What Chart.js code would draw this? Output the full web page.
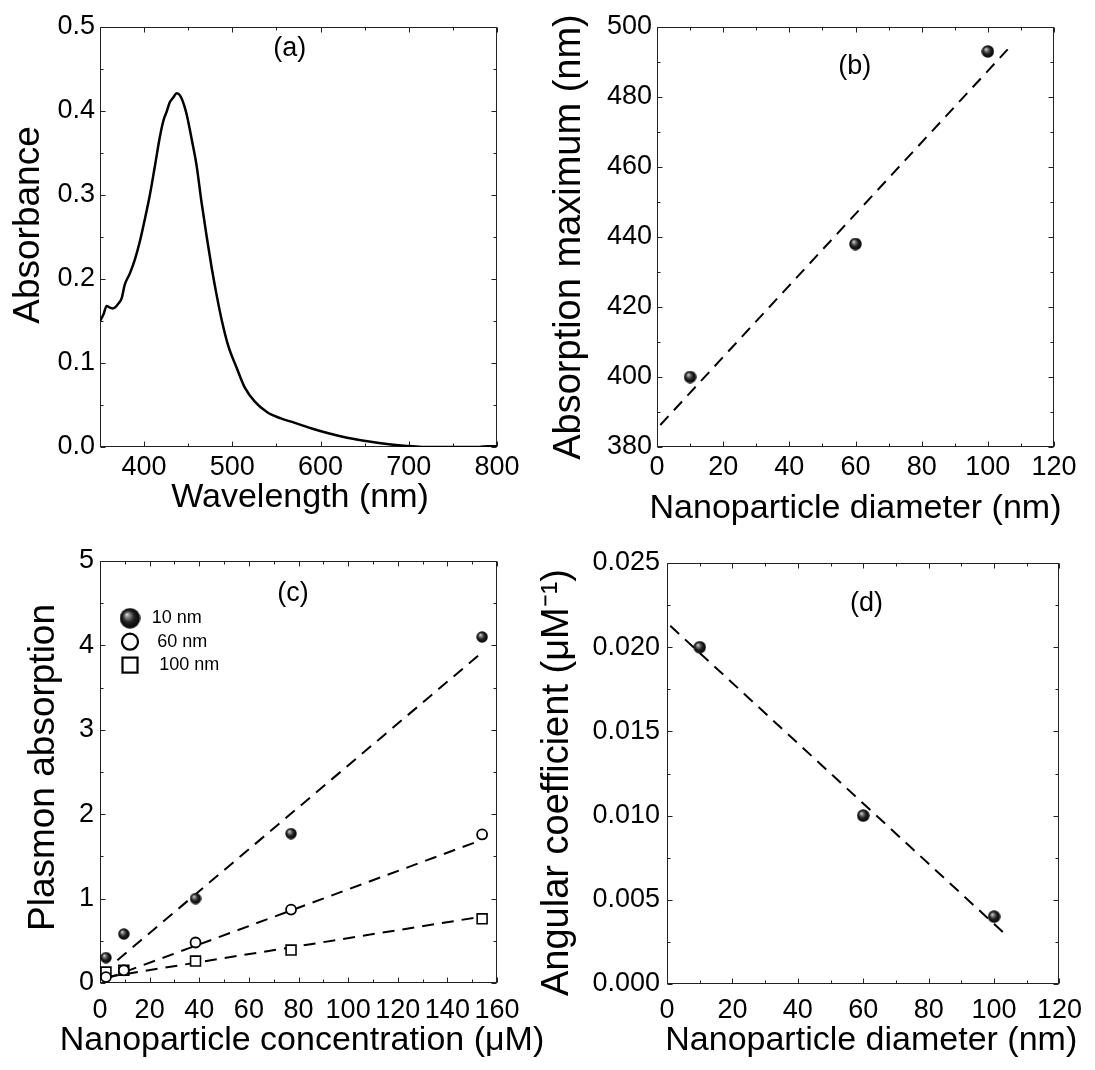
<!DOCTYPE html>
<html>
<head>
<meta charset="utf-8">
<script src="https://cdn.jsdelivr.net/npm/chart.js@4.4.1/dist/chart.umd.min.js"></script>
<style>
  html, body { margin: 0; padding: 0; background: #fff; }
  body { width: 1095px; height: 1070px; position: relative; overflow: hidden; }
  canvas { position: absolute; }
</style>
</head>
<body>
<canvas id="panelA" width="547" height="535" style="left:0px;top:0px"></canvas>
<canvas id="panelB" width="565" height="535" style="left:530px;top:0px"></canvas>
<canvas id="panelC" width="560" height="535" style="left:0px;top:535px"></canvas>
<canvas id="panelD" width="565" height="535" style="left:530px;top:535px"></canvas>
<script>
// (a) absorption spectrum
const wavelength = [350, 354, 357.5, 361, 364, 367, 371, 374.5, 378, 384, 389.5, 395, 401, 406.5, 412, 418,
  422, 425.5, 429, 433, 437, 441, 445, 448, 454, 459.5, 465, 471, 476.5, 482, 488, 495.5, 505, 514,
  525.5, 540, 555, 570, 590, 610, 630, 655, 680, 705, 720, 750, 780, 790, 800];
const absorbance = [0.150, 0.158, 0.168, 0.166, 0.165, 0.166, 0.171, 0.177, 0.193, 0.207, 0.223, 0.244, 0.272, 0.300, 0.333, 0.370,
  0.389, 0.399, 0.410, 0.416, 0.421, 0.418, 0.408, 0.397, 0.366, 0.335, 0.292, 0.250, 0.214, 0.182, 0.151, 0.120, 0.094, 0.071,
  0.054, 0.041, 0.034, 0.029, 0.022, 0.016, 0.011, 0.0065, 0.003, 0.0008, 0, 0, 0, 0.001, 0.001];
const wavelengthTicks = [400, 500, 600, 700, 800];
const absorbanceTicks = [0, 0.1, 0.2, 0.3, 0.4, 0.5];

// (b) absorption maximum vs diameter
const diameters = [10, 60, 100];
const peakMaximum = [400, 438, 493];
const peakFitX = [1, 106];
const peakFitY = [386.3, 493.6];
const diameterTicks = [0, 20, 40, 60, 80, 100, 120];
const peakTicks = [380, 400, 420, 440, 460, 480, 500];

// (c) plasmon absorption vs concentration
const seriesNames = ['10 nm', '60 nm', '100 nm'];
const concentration = [2.4, 9.6, 38.5, 77, 154];
const plasmon10 = [0.30, 0.58, 1.00, 1.77, 4.10];
const plasmon60 = [0.07, 0.15, 0.48, 0.87, 1.76];
const plasmon100 = [0.13, 0.15, 0.26, 0.39, 0.76];
const fit10X = [7, 152.5], fit10Y = [0.27, 3.88];
const fit60X = [2.5, 152.5], fit60Y = [0.05, 1.68];
const fit100X = [2.5, 152.5], fit100Y = [0.07, 0.78];
const concTicks = [0, 20, 40, 60, 80, 100, 120, 140, 160];
const plasmonTicks = [0, 1, 2, 3, 4, 5];

// (d) angular coefficient vs diameter
const angular = [0.020, 0.010, 0.004];
const angularFitX = [1, 104];
const angularFitY = [0.02127, 0.00285];
const angularTicks = [0, 0.005, 0.010, 0.015, 0.020, 0.025];

const FONT = '"Liberation Sans", Arial, Helvetica, sans-serif';
Chart.defaults.font.family = FONT;
Chart.defaults.color = '#000';

const zip = (xs, ys) => xs.map((x, i) => ({ x: x, y: ys[i] }));

// shaded ball marker
function makeSphere(d) {
  const c = document.createElement('canvas');
  c.width = d; c.height = d;
  const g = c.getContext('2d');
  const r = d / 2;
  const grad = g.createRadialGradient(r * 0.68, r * 0.62, 0, r, r, r);
  grad.addColorStop(0, '#e6e6e6');
  grad.addColorStop(0.22, '#8a8a8a');
  grad.addColorStop(0.55, '#222');
  grad.addColorStop(1, '#000');
  g.fillStyle = grad;
  g.beginPath();
  g.arc(r, r, r - 0.3, 0, Math.PI * 2);
  g.fill();
  return c;
}
const ball13 = makeSphere(13);
const ball12 = makeSphere(12);
const ballBig = makeSphere(21);

function steps(min, max, step) {
  const out = [];
  for (let i = Math.ceil(min / step - 1e-9); i * step <= max + 1e-9; i++) out.push(i * step);
  return out;
}

// box, inward ticks on all sides, axis titles, panel tag
const framePlugin = {
  id: 'frame',
  beforeDatasetsDraw(chart, args, o) {
    const { ctx, chartArea: a, scales } = chart;
    const x = scales.x, y = scales.y;
    const L = Math.round(a.left) + 0.5, R = Math.round(a.right) - 0.5;
    const T = Math.round(a.top) + 0.5, B = Math.round(a.bottom) - 0.5;
    ctx.save();
    ctx.strokeStyle = '#222';
    ctx.lineWidth = 1;
    ctx.strokeRect(L, T, R - L, B - T);
    ctx.beginPath();
    steps(x.min, x.max, o.xStep).forEach(v => {
      const p = Math.round(x.getPixelForValue(v)) + 0.5;
      const len = Math.abs(v / o.xMajor - Math.round(v / o.xMajor)) < 1e-6 ? 5 : 3;
      ctx.moveTo(p, B); ctx.lineTo(p, B - len);
      ctx.moveTo(p, T); ctx.lineTo(p, T + len);
    });
    steps(y.min, y.max, o.yStep).forEach(v => {
      const p = Math.round(y.getPixelForValue(v)) + 0.5;
      const len = Math.abs(v / o.yMajor - Math.round(v / o.yMajor)) < 1e-6 ? 5 : 3;
      ctx.moveTo(L, p); ctx.lineTo(L + len, p);
      ctx.moveTo(R, p); ctx.lineTo(R - len, p);
    });
    ctx.stroke();

    ctx.fillStyle = '#000';
    ctx.textAlign = 'center';
    ctx.textBaseline = 'middle';
    ctx.font = '27px ' + FONT;
    ctx.fillText(o.tag, x.getPixelForValue(o.tagAt[0]), y.getPixelForValue(o.tagAt[1]));

    const xt = o.xTitle;
    ctx.font = xt.size + 'px ' + FONT;
    ctx.fillText(xt.text, (a.left + a.right) / 2 + xt.dx, a.bottom + xt.dy);

    const yt = o.yTitle;
    ctx.translate(a.left + yt.dx, (a.top + a.bottom) / 2 + yt.dy);
    ctx.rotate(-Math.PI / 2);
    ctx.font = yt.size + 'px ' + FONT;
    ctx.fillText(yt.text, 0, 0);
    ctx.restore();
  }
};

// legend drawn inside the plot of panel (c)
const insetLegend = {
  id: 'insetLegend',
  afterDatasetsDraw(chart, args, o) {
    const { ctx, chartArea: a } = chart;
    ctx.save();
    ctx.font = '18px ' + FONT;
    ctx.textBaseline = 'middle';
    ctx.textAlign = 'left';
    ctx.fillStyle = '#000';
    ctx.strokeStyle = '#000';
    ctx.lineWidth = 2.2;
    seriesNames.forEach((name, i) => {
      const cx = a.left + o.x, cy = a.top + o.y + i * o.gap;
      if (i === 0) {
        ctx.drawImage(ballBig, cx - ballBig.width / 2, cy - ballBig.height / 2);
      } else if (i === 1) {
        ctx.beginPath();
        ctx.arc(cx, cy, 8, 0, Math.PI * 2);
        ctx.stroke();
      } else {
        ctx.strokeRect(cx - 7.5, cy - 7.5, 15, 15);
      }
      ctx.fillText(name, a.left + o.textX + o.dx[i], cy);
    });
    ctx.restore();
  }
};

function axis(a, dir, size) {
  return {
    type: 'linear',
    position: dir === 'x' ? 'bottom' : 'left',
    min: a.min,
    max: a.max,
    grid: { display: false, drawTicks: false },
    border: { display: false },
    ticks: {
      autoSkip: false, maxRotation: 0, minRotation: 0,
      padding: a.tickPad,
      color: '#000',
      font: { size: 27, lineHeight: 1 },
      callback: v => a.digits ? Number(v).toFixed(a.digits) : String(Math.round(v))
    },
    afterBuildTicks: s => { s.ticks = a.ticks.map(v => ({ value: v })); },
    afterFit: s => { if (dir === 'x') s.height = size; else s.width = size; },
    title: { display: false }
  };
}

function panelOptions(p) {
  const plugins = { legend: { display: false }, tooltip: { enabled: false }, frame: p.frame };
  if (p.legend) plugins.insetLegend = p.legend;
  return {
    responsive: false,
    animation: false,
    events: [],
    layout: { padding: { left: 0, top: p.top, right: p.right, bottom: 0 } },
    plugins: plugins,
    scales: { x: axis(p.x, 'x', p.xHeight), y: axis(p.y, 'y', p.yWidth) }
  };
}

const dashed = (xs, ys) => ({
  data: zip(xs, ys), showLine: true, pointRadius: 0, borderColor: '#000',
  borderWidth: 2, borderDash: [12, 8], clip: false
});

new Chart(document.getElementById('panelA'), {
  type: 'scatter',
  data: {
    datasets: [{
      data: zip(wavelength, absorbance), showLine: true, pointRadius: 0,
      borderColor: '#000', borderWidth: 2.5, cubicInterpolationMode: 'monotone'
    }]
  },
  options: panelOptions({
    top: 27, right: 50, yWidth: 100, xHeight: 88,
    x: { min: 350, max: 800, ticks: wavelengthTicks, tickPad: 7 },
    y: { min: 0, max: 0.5, ticks: absorbanceTicks, digits: 1, tickPad: 5 },
    frame: {
      xStep: 50, xMajor: 100, yStep: 0.05, yMajor: 0.1, tag: '(a)', tagAt: [565, 0.474],
      xTitle: { text: 'Wavelength (nm)', size: 34, dx: 1.5, dy: 51 },
      yTitle: { text: 'Absorbance', size: 37, dx: -71, dy: -12 }
    }
  }),
  plugins: [framePlugin]
});

new Chart(document.getElementById('panelB'), {
  type: 'scatter',
  data: {
    datasets: [
      { data: zip(diameters, peakMaximum), pointStyle: ball13, pointRadius: 6.5, clip: false },
      dashed(peakFitX, peakFitY)
    ]
  },
  options: panelOptions({
    top: 27, right: 41, yWidth: 127, xHeight: 88,
    x: { min: 0, max: 120, ticks: diameterTicks, tickPad: 7 },
    y: { min: 380, max: 500, ticks: peakTicks, tickPad: 5 },
    frame: {
      xStep: 10, xMajor: 20, yStep: 10, yMajor: 20, tag: '(b)', tagAt: [59.8, 488.7],
      xTitle: { text: 'Nanoparticle diameter (nm)', size: 34, dx: 0, dy: 62 },
      yTitle: { text: 'Absorption maximum (nm)', size: 38, dx: -87, dy: 0 }
    }
  }),
  plugins: [framePlugin]
});

new Chart(document.getElementById('panelC'), {
  type: 'scatter',
  data: {
    datasets: [
      { label: seriesNames[0], data: zip(concentration, plasmon10), pointStyle: ball12, pointRadius: 6, clip: false },
      { label: seriesNames[1], data: zip(concentration, plasmon60), pointStyle: 'circle', pointRadius: 5,
        pointBackgroundColor: '#fff', pointBorderColor: '#000', pointBorderWidth: 1.8, clip: false },
      { label: seriesNames[2], data: zip(concentration, plasmon100), pointStyle: 'rect', pointRadius: 7,
        pointBackgroundColor: '#fff', pointBorderColor: '#000', pointBorderWidth: 1.6, clip: false },
      dashed(fit10X, fit10Y),
      dashed(fit60X, fit60Y),
      dashed(fit100X, fit100Y)
    ]
  },
  options: panelOptions({
    top: 26, right: 63, yWidth: 100, xHeight: 87,
    x: { min: 0, max: 160, ticks: concTicks, tickPad: 14 },
    y: { min: 0, max: 5, ticks: plasmonTicks, tickPad: 6 },
    frame: {
      xStep: 10, xMajor: 20, yStep: 0.5, yMajor: 1, tag: '(c)', tagAt: [77.8, 4.62],
      xTitle: { text: 'Nanoparticle concentration (\u03bcM)', size: 34, dx: 3.5, dy: 58 },
      yTitle: { text: 'Plasmon absorption', size: 37, dx: -56, dy: -4.5 }
    },
    legend: { x: 30, y: 57.3, gap: 23.4, textX: 51.7, dx: [0, 5.6, 7.6] }
  }),
  plugins: [framePlugin, insetLegend]
});

new Chart(document.getElementById('panelD'), {
  type: 'scatter',
  data: {
    datasets: [
      { data: zip(diameters, angular), pointStyle: ball13, pointRadius: 6.5, clip: false },
      dashed(angularFitX, angularFitY)
    ]
  },
  options: panelOptions({
    top: 28, right: 30, yWidth: 137, xHeight: 86,
    x: { min: 0, max: 120, ticks: diameterTicks, tickPad: 13 },
    y: { min: 0, max: 0.025, ticks: angularTicks, digits: 3, tickPad: 7 },
    frame: {
      xStep: 10, xMajor: 20, yStep: 0.0025, yMajor: 0.005, tag: '(d)', tagAt: [61, 0.0226],
      xTitle: { text: 'Nanoparticle diameter (nm)', size: 34, dx: 8, dy: 57 },
      yTitle: { text: 'Angular coefficient (\u03bcM\u207b\u00b9)', size: 38, dx: -109, dy: 9 }
    }
  }),
  plugins: [framePlugin]
});
</script>
</body>
</html>
